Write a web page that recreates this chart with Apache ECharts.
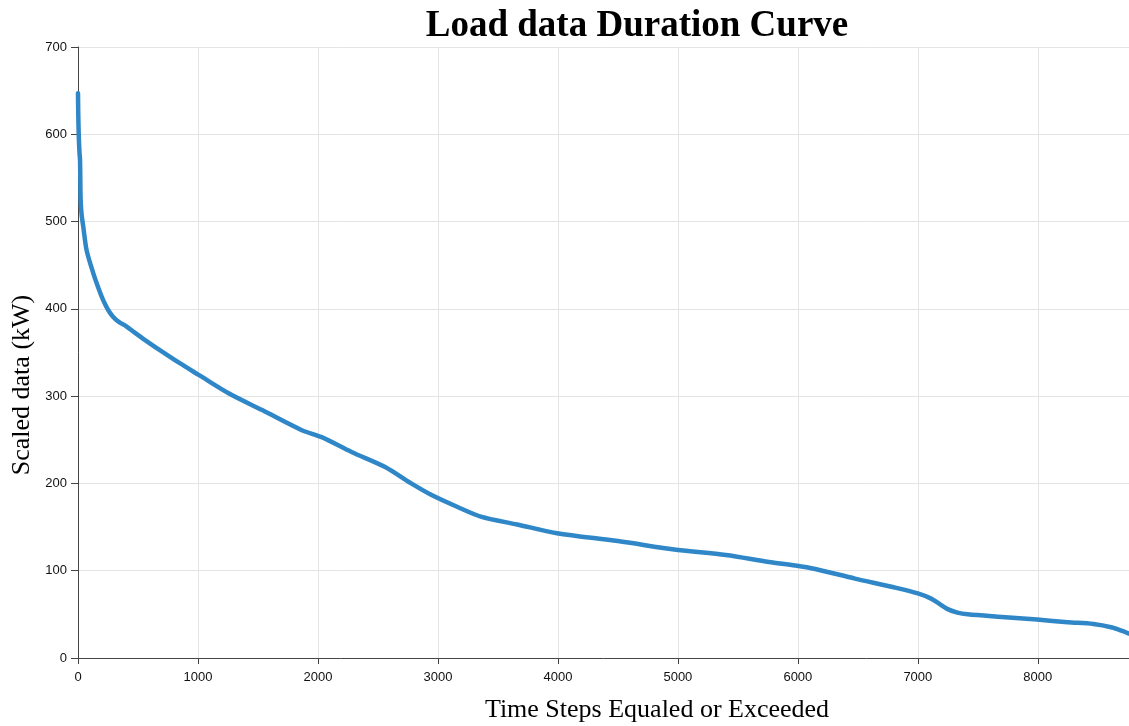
<!DOCTYPE html>
<html>
<head>
<meta charset="utf-8">
<title>Load data Duration Curve</title>
<script src="https://cdn.jsdelivr.net/npm/echarts@6/dist/echarts.min.js"></script>
<style>
  html, body { margin: 0; padding: 0; background: #ffffff; }
  #chart { width: 1129px; height: 726px; }
</style>
</head>
<body>
<div id="chart"></div>
<script>
// Sorted load samples: time step (hours equaled or exceeded) and scaled load (kW)
const timeSteps = [0, 2, 6, 12, 17, 22, 30, 44, 72, 127, 170, 210, 250, 292, 340, 403, 470, 541, 679, 845,
  1010, 1259, 1535, 1866, 2031, 2280, 2556, 2777, 2943, 3164, 3357, 3660, 3992, 4500,
  4986, 5400, 5758, 5979, 6145, 6476, 6800, 7000, 7111, 7180, 7249, 7330, 7415, 7700,
  7994, 8250, 8464, 8620, 8704, 8760];
const loadKW = [647, 625, 600, 580, 570, 525, 508, 494, 467, 441, 424, 410, 399, 391, 385, 380, 373, 366, 353, 338,
  324, 303, 284, 261, 253, 236, 219, 200, 187, 173, 162, 153, 143, 134,
  124, 118, 110, 106, 102, 91, 81, 74, 68, 62, 56, 52, 50, 47,
  44, 41, 39, 35, 31, 28];

const chartTitle = 'Load data Duration Curve';
const xTitle = 'Time Steps Equaled or Exceeded';
const yTitle = 'Scaled data (kW)';

const points = timeSteps.map((t, i) => [t, loadKW[i]]);

const serif = '"Liberation Serif", "Times New Roman", serif';
const sans = '"Liberation Sans", Arial, sans-serif';

const chart = echarts.init(document.getElementById('chart'), null, { renderer: 'canvas' });

chart.setOption({
  backgroundColor: '#ffffff',
  animation: false,
  title: {
    text: chartTitle,
    left: 632,
    top: 3,
    textAlign: 'center',
    textStyle: { fontFamily: serif, fontWeight: 'bold', fontSize: 37, color: '#000000' }
  },
  grid: { left: 78, right: -6, top: 47, bottom: 68, containLabel: false },
  xAxis: {
    type: 'value',
    min: 0,
    max: 8760,
    interval: 1000,
    axisLine: { show: true, onZero: false, lineStyle: { color: '#444444', width: 1 } },
    axisTick: { show: true, length: 6, lineStyle: { color: '#444444' } },
    axisLabel: {
      margin: 13, fontFamily: sans, fontSize: 13, color: '#111111', showMaxLabel: false,
      formatter: v => String(v)
    },
    splitLine: { show: true, lineStyle: { color: '#e4e4e4', width: 1 } }
  },
  yAxis: {
    type: 'value',
    min: 0,
    max: 700,
    interval: 100,
    axisLine: { show: true, lineStyle: { color: '#444444', width: 1 } },
    axisTick: { show: true, length: 7, lineStyle: { color: '#444444' } },
    axisLabel: { margin: 11, fontFamily: sans, fontSize: 13, color: '#111111', formatter: v => String(v) },
    splitLine: { show: true, lineStyle: { color: '#e4e4e4', width: 1 } }
  },
  graphic: [
    {
      type: 'text',
      x: 657,
      y: 710,
      style: {
        text: xTitle,
        font: '26px ' + serif,
        fill: '#000000',
        textAlign: 'center',
        textVerticalAlign: 'middle'
      }
    },
    {
      type: 'text',
      x: 22,
      y: 385,
      rotation: Math.PI / 2,
      style: {
        text: yTitle,
        font: '26px ' + serif,
        fill: '#000000',
        textAlign: 'center',
        textVerticalAlign: 'middle'
      }
    }
  ],
  series: [{
    type: 'line',
    data: points,
    showSymbol: false,
    smooth: 0.3,
    clip: true,
    lineStyle: { color: '#3087c7', width: 4.5, join: 'round', cap: 'round' },
    emphasis: { disabled: true }
  }]
});
</script>
</body>
</html>
